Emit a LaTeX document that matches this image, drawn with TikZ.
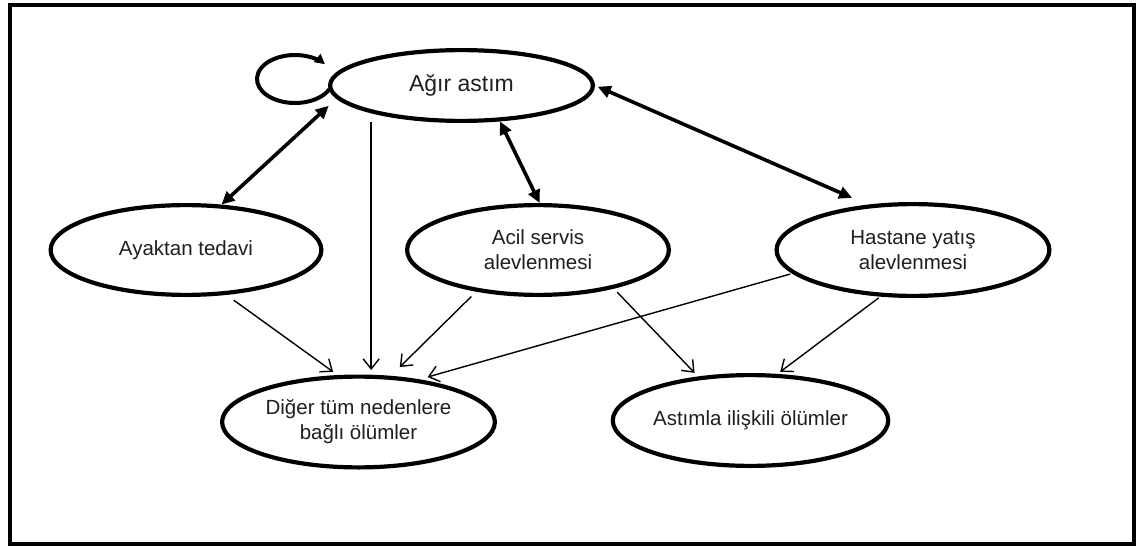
\documentclass[tikz,border=0pt]{standalone}
\usepackage{fontspec}
\setmainfont{Liberation Sans}
\usetikzlibrary{shapes.geometric,arrows.meta}
\begin{document}
\begin{tikzpicture}[x=1pt,y=-1pt,
  state/.style={ellipse, draw, line width=4.2pt, fill=white, inner sep=0pt,
    align=center, text=black!88, font=\fontsize{20.5}{25}\selectfont},
  bothway/.style={{Triangle[length=13pt,width=12pt]}-{Triangle[length=13pt,width=12pt]},
    line width=3.6pt},
  oneway/.style={-{Straight Barb[length=10pt,width=16pt]}, line width=1.4pt},
  loopline/.style={line width=4pt, -{Triangle[length=10pt,width=10pt]}}
]
\useasboundingbox (0,0) rectangle (1136,546);
\draw[line width=4pt] (9.5,5) rectangle (1133.5,543.5);

% self-loop of the severe asthma state
\coordinate (loopc) at (295,79);
\draw[loopline] (loopc) ++(25:38 and 24)
  arc[start angle=25, end angle=322, x radius=38, y radius=24];

% states
\node[state, minimum width=262.8pt, minimum height=70.8pt,
      font=\fontsize{23}{28}\selectfont] (agir) at (461.5,85.5) {Ağır astım};
\node[state, minimum width=270.8pt, minimum height=89.8pt] (ayak) at (186,250) {Ayaktan tedavi};
\node[state, minimum width=261.8pt, minimum height=89.8pt] (acil) at (538,250) {Acil servis\\alevlenmesi};
\node[state, minimum width=272.8pt, minimum height=91.8pt] (hast) at (913,250) {Hastane yatış\\alevlenmesi};
\node[state, minimum width=272.8pt, minimum height=90.8pt] (dig) at (358.5,422) {Diğer tüm nedenlere\\bağlı ölümler};
\node[state, minimum width=270.8pt, minimum height=90.8pt] (ast) at (750.5,420.5) {Astımla ilişkili ölümler};

% transitions between severe asthma and the exacerbation states
\draw[bothway, shorten >=10.5pt] (ayak.52) -- (agir.186);
\draw[bothway] (acil.88) -- (agir.317);
\draw[bothway, shorten <=3pt, shorten >=17pt] (agir.0) -- (hast.135);

% transitions to death states
\draw[oneway, shorten <=9pt, shorten >=4.5pt] (agir.197) -- (agir.197 |- dig.north);
\draw[oneway, shorten <=9pt, shorten >=5.5pt] (ayak.312) -- (dig.114);
\draw[oneway, shorten <=7pt, shorten >=12.5pt] (acil.214) -- (dig.55);
\draw[oneway, shorten <=2pt, shorten >=8.5pt] (hast.191) -- (dig.35);
\draw[oneway, shorten <=5pt, shorten >=5pt] (acil.333) -- (ast.140);
\draw[oneway, shorten <=2pt, shorten >=3.5pt] (hast.235) -- (ast.60);
\end{tikzpicture}
\end{document}
